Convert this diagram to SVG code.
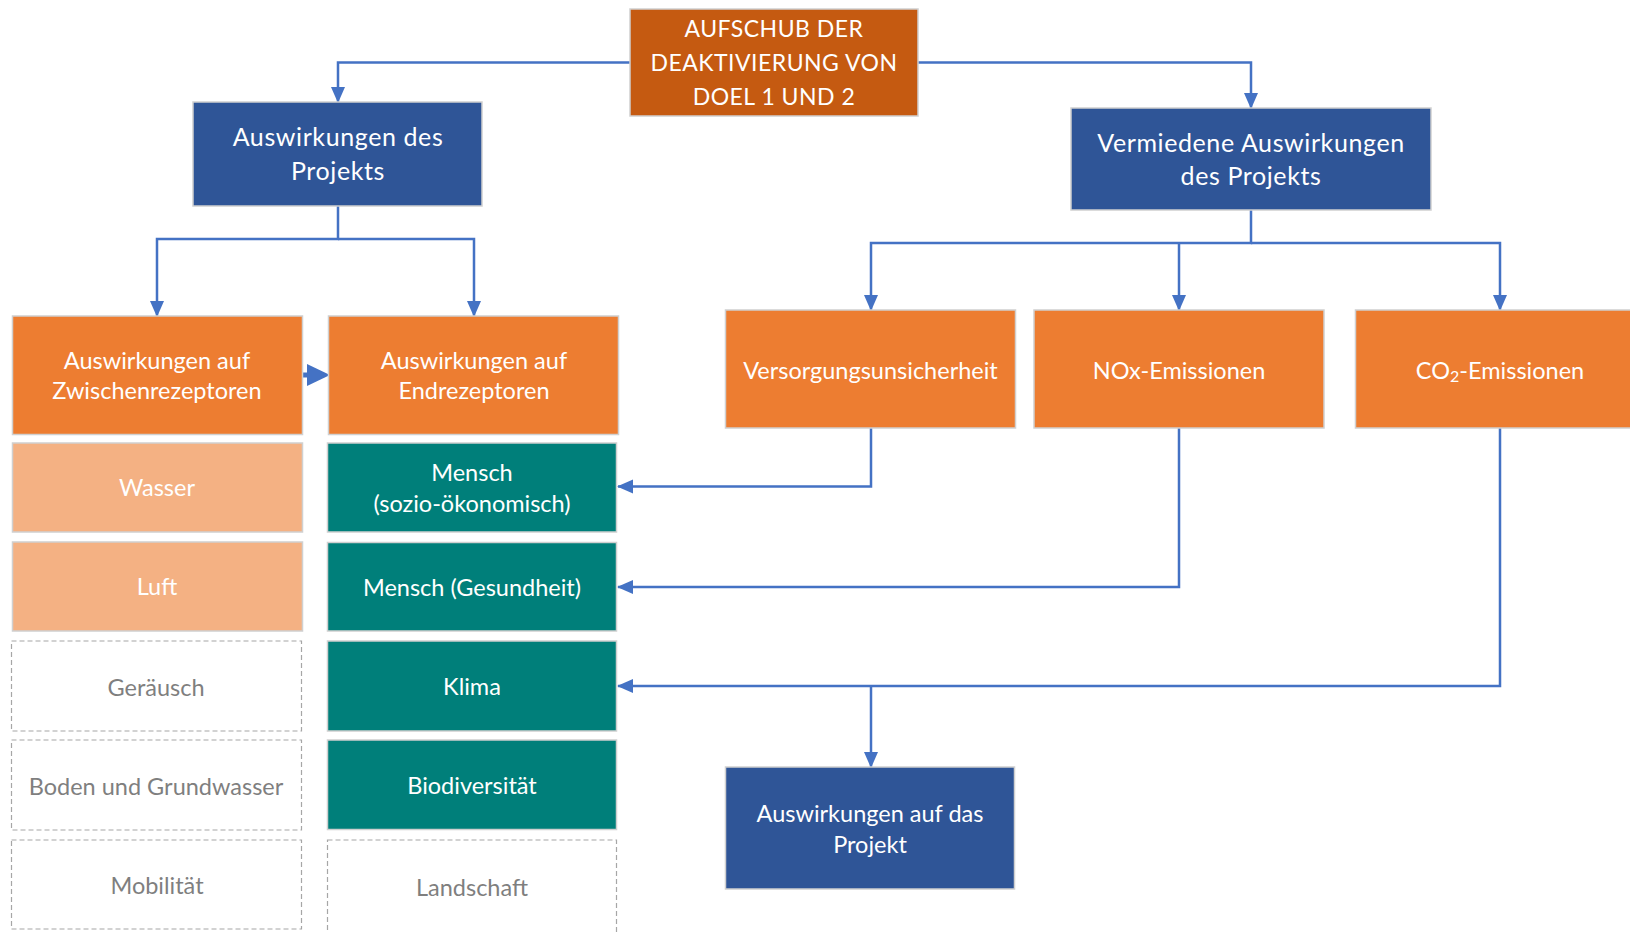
<svg xmlns="http://www.w3.org/2000/svg" width="1630" height="932" viewBox="0 0 1630 932">
<style>
  .t { font-family: Lato, "Open Sans", "Liberation Sans", sans-serif; text-anchor: middle; dominant-baseline: central; }
  .w { fill: #FFFFFF; }
  .g { fill: #7F7F7F; }
  .fs22 { font-size: 23.5px; }
  .fs24 { font-size: 23px; letter-spacing: 0.5px; }
  .fs25 { font-size: 25px; letter-spacing: 0.6px; }
  .box { stroke: #D0D0D0; stroke-width: 1.5; }
  .dark { fill: #C55A11; }
  .blue { fill: #2F5597; }
  .orange { fill: #ED7D31; }
  .light { fill: #F4B183; }
  .teal { fill: #007F7A; }
  .dash { fill: #FFFFFF; stroke: #A6A6A6; stroke-width: 1.2; stroke-dasharray: 5 3; }
  .con { fill: none; stroke: #4472C4; stroke-width: 2.5; marker-end: url(#ah); }
</style>
<defs>
  <marker id="ah" markerUnits="userSpaceOnUse" markerWidth="16" markerHeight="16" viewBox="0 0 16 16" refX="15" refY="8" orient="auto">
    <path d="M0,1 L16,8 L0,15 Z" fill="#4472C4"/>
  </marker>
</defs>
<rect width="1630" height="932" fill="#FFFFFF"/>

<g id="connectors">
  <path class="con" d="M630,62.5 H338 V102"/>
  <path class="con" d="M918,62.5 H1251 V108"/>
  <path class="con" d="M338,206 V239 H157 V316"/>
  <path class="con" d="M338,239 H474 V316"/>
  <path class="con" d="M1251,210 V243 H871 V310"/>
  <path class="con" d="M1179,243 V310"/>
  <path class="con" d="M1251,243 H1500 V310"/>
  <path class="con" d="M871,428 V486.5 H618"/>
  <path class="con" d="M1179,428 V587 H618"/>
  <path class="con" d="M1500,428 V686 H618"/>
  <path class="con" d="M871,686 V767"/>
  <path d="M303,375 H310" stroke="#4472C4" stroke-width="5" fill="none"/>
  <path d="M307,364 L330,375 L307,386 Z" fill="#4472C4"/>
</g>

<g id="n-aufschub">
  <rect class="box dark" x="630" y="9" width="288" height="107"/>
  <text class="t w fs24" x="774" y="28">AUFSCHUB DER</text>
  <text class="t w fs24" x="774" y="62">DEAKTIVIERUNG VON</text>
  <text class="t w fs24" x="774" y="96">DOEL 1 UND 2</text>
</g>
<g id="n-auswirkungen-projekt">
  <rect class="box blue" x="193" y="102" width="289" height="104"/>
  <text class="t w fs25" x="338" y="136">Auswirkungen des</text>
  <text class="t w fs25" x="338" y="170">Projekts</text>
</g>
<g id="n-vermiedene">
  <rect class="box blue" x="1071" y="108" width="360" height="102"/>
  <text class="t w fs25" x="1251" y="142">Vermiedene Auswirkungen</text>
  <text class="t w fs25" x="1251" y="175">des Projekts</text>
</g>
<g id="n-zwischen">
  <rect class="box orange" x="12.5" y="316" width="290" height="118.5"/>
  <text class="t w fs22" x="157" y="360">Auswirkungen auf</text>
  <text class="t w fs22" x="157" y="390">Zwischenrezeptoren</text>
</g>
<g id="n-end">
  <rect class="box orange" x="328.5" y="316" width="290" height="118.5"/>
  <text class="t w fs22" x="474" y="360">Auswirkungen auf</text>
  <text class="t w fs22" x="474" y="390">Endrezeptoren</text>
</g>
<g id="n-wasser">
  <rect class="box light" x="12.5" y="443" width="290" height="89"/>
  <text class="t w fs22" x="157" y="487">Wasser</text>
</g>
<g id="n-luft">
  <rect class="box light" x="12.5" y="542" width="290" height="89"/>
  <text class="t w fs22" x="157" y="586">Luft</text>
</g>
<g id="n-geraeusch">
  <rect class="dash" x="11.5" y="641" width="290" height="90"/>
  <text class="t g fs22" x="156" y="687">Geräusch</text>
</g>
<g id="n-boden">
  <rect class="dash" x="11.5" y="740" width="290" height="90"/>
  <text class="t g fs22" x="156" y="786">Boden und Grundwasser</text>
</g>
<g id="n-mobilitaet">
  <rect class="dash" x="11.5" y="840" width="290" height="89"/>
  <text class="t g fs22" x="157" y="885">Mobilität</text>
</g>
<g id="n-mensch-sozio">
  <rect class="box teal" x="327.5" y="443" width="289" height="89"/>
  <text class="t w fs22" x="472" y="472">Mensch</text>
  <text class="t w fs22" x="472" y="503">(sozio-ökonomisch)</text>
</g>
<g id="n-mensch-gesundheit">
  <rect class="box teal" x="327.5" y="542.5" width="289" height="88.5"/>
  <text class="t w fs22" x="472" y="587">Mensch (Gesundheit)</text>
</g>
<g id="n-klima">
  <rect class="box teal" x="327.5" y="641" width="289" height="90"/>
  <text class="t w fs22" x="472" y="686">Klima</text>
</g>
<g id="n-biodiversitaet">
  <rect class="box teal" x="327.5" y="740" width="289" height="89.5"/>
  <text class="t w fs22" x="472" y="785">Biodiversität</text>
</g>
<g id="n-landschaft">
  <rect class="dash" x="327.5" y="840" width="289" height="100"/>
  <text class="t g fs22" x="472" y="887">Landschaft</text>
</g>
<g id="n-versorgung">
  <rect class="box orange" x="725.5" y="310" width="290" height="118"/>
  <text class="t w fs22" x="870.5" y="370">Versorgungsunsicherheit</text>
</g>
<g id="n-nox">
  <rect class="box orange" x="1034" y="310" width="290" height="118"/>
  <text class="t w fs22" x="1179" y="370">NOx-Emissionen</text>
</g>
<g id="n-co2">
  <rect class="box orange" x="1355.5" y="310" width="290" height="118"/>
  <text class="t w fs22" x="1500" y="370">CO<tspan font-size="16" dy="5">2</tspan><tspan dy="-5">-Emissionen</tspan></text>
</g>
<g id="n-auswirkungen-auf-projekt">
  <rect class="box blue" x="725.5" y="767" width="289" height="122"/>
  <text class="t w fs22" x="870" y="813">Auswirkungen auf das</text>
  <text class="t w fs22" x="870" y="844">Projekt</text>
</g>
</svg>
